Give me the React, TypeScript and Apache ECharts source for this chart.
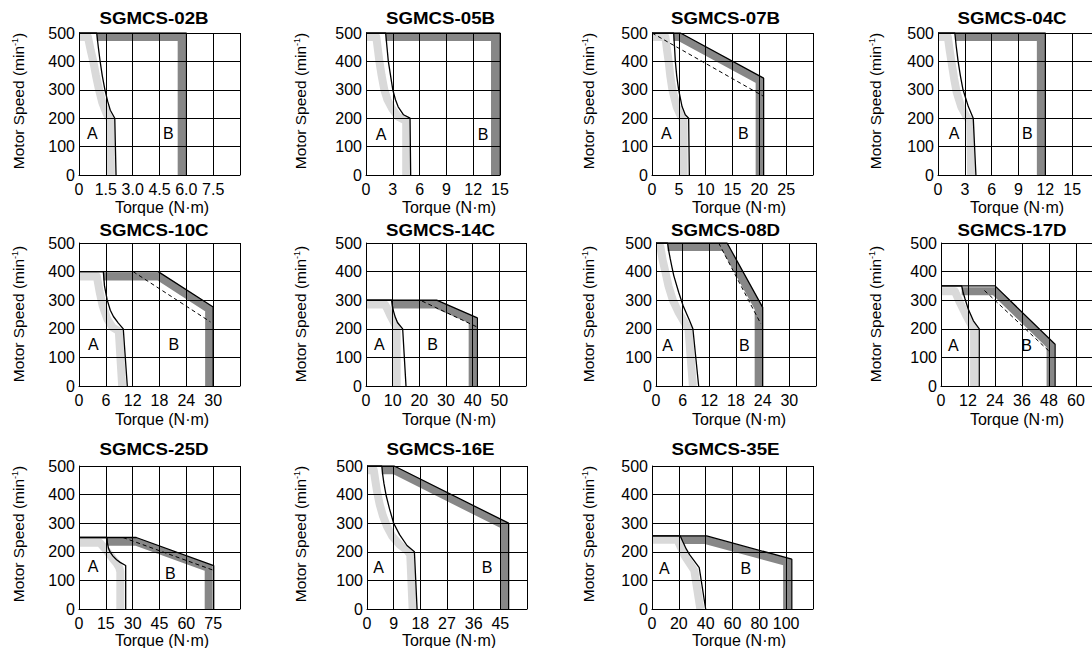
import React, { useEffect, useRef } from 'react';
import * as echarts from 'echarts';

const FONT = '"Liberation Sans", Arial, Helvetica, sans-serif';
const TXT = '#000';
const LIGHT = '#d9d9d9';
const DARK = '#878787';

// ---------- panel titles and axes ----------
const titles = ['SGMCS-02B', 'SGMCS-05B', 'SGMCS-07B', 'SGMCS-04C', 'SGMCS-10C', 'SGMCS-14C', 'SGMCS-08D', 'SGMCS-17D', 'SGMCS-25D', 'SGMCS-16E', 'SGMCS-35E'];
const xMaxes = [9, 15, 30, 18, 36, 60, 36, 72, 90, 54, 120];
const xSteps = [1.5, 3, 5, 3, 6, 10, 6, 12, 15, 9, 20];
const xShowMax = [false, true, false, false, false, false, false, false, false, false, false];
const xDecimals = [1, 0, 0, 0, 0, 0, 0, 0, 0, 0, 0];
const yMax = 500;
const yStep = 100;
const xName = 'Torque (N·m)';

// ---------- data: [torque, speed] ----------
// SGMCS-02B
const aLine02B = [[0, 500], [0.99, 500], [1.08, 450], [1.17, 405], [1.3, 350], [1.45, 300], [1.6, 260], [1.75, 228], [2.0, 200], [2.07, 0]];
const aBand02B = [[0, 486], [0.5, 486], [0.65, 440], [0.8, 400], [0.95, 350], [1.12, 300], [1.3, 255], [1.55, 215], [1.78, 190], [1.78, 0]];
const bLine02B = [[0, 500], [6, 500], [6, 0]];
const bBand02B = [[0.99, 486], [5.74, 486], [5.74, 0]];
// SGMCS-05B
const aLine05B = [[0, 500], [2.2, 500], [2.35, 450], [2.5, 400], [2.75, 350], [3.0, 300], [3.3, 265], [3.6, 240], [4.2, 212], [4.93, 200], [5.0, 0]];
const aBand05B = [[0, 486], [1.15, 486], [1.3, 450], [1.5, 400], [1.75, 350], [2.05, 300], [2.4, 265], [2.9, 235], [3.6, 205], [4.5, 190], [4.5, 0]];
const bLine05B = [[0, 500], [15, 500], [15, 0]];
const bBand05B = [[2.2, 486], [14.44, 486], [14.44, 0]];
// SGMCS-07B
const aLine07B = [[0, 500], [4.04, 500], [4.2, 450], [4.35, 400], [4.6, 350], [4.97, 300], [5.6, 241], [6.2, 212], [6.83, 200], [6.96, 0]];
const aBand07B = [[0, 486], [2.5, 486], [2.8, 440], [3.1, 400], [3.4, 350], [3.8, 300], [4.6, 240], [5.3, 210], [5.9, 190], [5.9, 0]];
const bLine07B = [[0, 500], [5.3, 500], [20.8, 341], [20.8, 0]];
const bBand07B = [[4.0, 486], [5.1, 486], [20.06, 333], [20.06, 0]];
const dash07B = [[0, 500], [20.8, 277]];
// SGMCS-04C
const aLine04C = [[0, 500], [1.88, 500], [2.05, 450], [2.25, 400], [2.5, 350], [2.8, 300], [3.4, 240], [3.94, 200], [4.24, 0]];
const aBand04C = [[0, 486], [1.1, 486], [1.3, 440], [1.5, 400], [1.8, 340], [2.1, 290], [2.6, 240], [3.2, 205], [3.6, 190], [3.7, 0]];
const bLine04C = [[0, 500], [12, 500], [12, 0]];
const bBand04C = [[1.9, 486], [11.5, 486], [11.5, 0]];
// SGMCS-10C
const aLine10C = [[0, 400], [5.44, 400], [5.7, 350], [6.3, 301], [7.0, 265], [7.7, 243], [8.8, 220], [9.9, 200], [10.8, 0]];
const aBand10C = [[0, 383], [4.0, 383], [4.6, 330], [5.3, 280], [6.3, 235], [7.5, 205], [8.9, 192], [9.65, 0]];
const bLine10C = [[0, 400], [17.7, 400], [30, 276], [30, 0]];
const bBand10C = [[5.44, 383], [17.8, 383], [29.1, 269], [29.1, 0]];
const dash10C = [[12.1, 400], [29.4, 224]];
// SGMCS-14C
const aLine14C = [[0, 300], [9.6, 300], [9.9, 280], [10.3, 262], [11.0, 240], [11.8, 222], [13.75, 200], [15.0, 0]];
const aBand14C = [[0, 285], [7.1, 285], [8.0, 270], [9.2, 245], [10.5, 222], [11.5, 205], [11.5, 0]];
const bLine14C = [[0, 300], [26.5, 300], [41.75, 238], [41.75, 0]];
const bBand14C = [[9.6, 285], [26.5, 285], [40.0, 230], [40.0, 0]];
const dash14C = [[21, 297], [41.5, 207]];
// SGMCS-08D
const aLine08D = [[0, 500], [2.6, 500], [2.9, 470], [3.2, 445], [3.6, 415], [4.0, 386], [5.1, 328], [6.1, 281], [7.4, 234], [8.3, 200], [9.6, 0]];
const aBand08D = [[0, 486], [1.0, 486], [1.5, 440], [2.1, 400], [2.8, 350], [3.8, 300], [5.0, 260], [6.3, 225], [7.3, 200], [8.3, 0]];
const bLine08D = [[0, 500], [16, 500], [24, 275], [24, 0]];
const bBand08D = [[2.6, 486], [15.5, 486], [23.1, 272], [23.1, 0]];
const dash08D = [[14.1, 500], [23.6, 217]];
// SGMCS-17D
const aLine17D = [[0, 350], [9.2, 350], [9.9, 325], [10.7, 304], [12.1, 269], [14.4, 228], [17.0, 200], [17.0, 0]];
const aBand17D = [[0, 331], [6.2, 331], [8.5, 290], [11, 250], [13.6, 212], [14.7, 200], [14.7, 0]];
const bLine17D = [[0, 350], [24, 350], [50.7, 146], [50.7, 0]];
const bBand17D = [[9.2, 331], [23.9, 331], [48.7, 141], [48.7, 0]];
const dash17D = [[19.3, 334], [48.4, 119]];
// SGMCS-25D
const aLine25D = [[0, 250], [15.65, 250], [15.9, 230], [16.5, 212], [17.5, 198], [19, 185], [21, 172], [23, 163], [26.1, 152], [26.1, 0]];
const aBand25D = [[0, 232], [11.6, 232], [14.0, 215], [16.6, 195], [19, 175], [21, 160], [22.5, 145], [23.1, 130], [23.1, 0]];
const bLine25D = [[0, 250], [32, 250], [75.3, 152], [75.3, 0]];
const bBand25D = [[15.6, 235], [32, 235], [72.5, 143], [72.5, 0]];
const dash25D = [[24.6, 250], [74.9, 136]];
// SGMCS-16E
const aLine16E = [[0, 500], [5.0, 500], [5.3, 470], [5.7, 440], [6.5, 395], [7.6, 350], [9.0, 300], [11, 260], [13.5, 222], [16.0, 200], [16.9, 0]];
const aBand16E = [[0, 485], [2.3, 485], [2.8, 450], [3.4, 410], [4.3, 365], [5.4, 325], [6.7, 290], [8.5, 255], [11, 225], [13.5, 205], [14.6, 190], [15.4, 0]];
const bLine16E = [[0, 500], [9.2, 500], [47.8, 300], [47.8, 0]];
const bBand16E = [[5, 485], [9.2, 485], [46.35, 292], [46.35, 0]];
// SGMCS-35E
const aLine35E = [[0, 256], [21, 256], [23, 235], [25.5, 210], [28, 190], [35.2, 145], [40, 0]];
const aBand35E = [[0, 242], [19, 242], [21.5, 215], [24.5, 185], [31.5, 135], [36, 0]];
const bLine35E = [[0, 256], [40.7, 256], [104.2, 174], [104.2, 0]];
const bBand35E = [[21, 241], [40, 241], [100.7, 164], [100.7, 0]];

const aLines = [aLine02B, aLine05B, aLine07B, aLine04C, aLine10C, aLine14C, aLine08D, aLine17D, aLine25D, aLine16E, aLine35E];
const aBands = [aBand02B, aBand05B, aBand07B, aBand04C, aBand10C, aBand14C, aBand08D, aBand17D, aBand25D, aBand16E, aBand35E];
const bLines = [bLine02B, bLine05B, bLine07B, bLine04C, bLine10C, bLine14C, bLine08D, bLine17D, bLine25D, bLine16E, bLine35E];
const bBands = [bBand02B, bBand05B, bBand07B, bBand04C, bBand10C, bBand14C, bBand08D, bBand17D, bBand25D, bBand16E, bBand35E];
const dashes: (number[][] | null)[] = [null, null, dash07B, null, dash10C, dash14C, dash08D, dash17D, dash25D, null, null];

// region label anchors (data coords)
const labelA = [[0.75, 147], [1.68, 141], [2.67, 147], [1.8, 147], [3.2, 144], [5, 145], [2.6, 140], [5.5, 140], [7.8, 148], [3.9, 146], [9.1, 143]];
const labelB = [[5, 147], [13.1, 141], [17, 147], [10, 147], [21.2, 144], [25, 145], [19.9, 140], [38, 140], [51, 125], [40.5, 146], [70, 143]];

// ---------- layout (pixels) ----------
const gridBoxes = [
  [79, 33, 161, 142], [366, 33, 134, 142], [652, 33, 161, 142], [938, 33, 161, 142],
  [79, 243, 161, 143], [366, 243, 160, 143], [656, 243, 160, 143], [941, 243, 162, 143],
  [79, 466, 161, 143], [367, 466, 160, 143], [652, 466, 161, 143],
];
const colTitleX = [154, 440.5, 725.5, 1012];
const colYNameX = [18, 300, 588, 875];
const colXNameX = [162, 449, 739, 1017];
const rowTitleY = [18, 230, 449];
const rowYNameY = [101, 314, 534];
const rowXNameY = [207, 419, 640];

export default function App() {
  const ref = useRef<HTMLDivElement>(null);
  useEffect(() => {
    if (!ref.current) return;
    const chart = echarts.init(ref.current, undefined, { renderer: 'svg' });
    const grid: any[] = [];
    const xAxis: any[] = [];
    const yAxis: any[] = [];
    const series: any[] = [];
    const graphic: any[] = [];
    titles.forEach((t, i) => {
      const [l, tp, w, h] = gridBoxes[i];
      const col = i % 4;
      const row = Math.floor(i / 4);
      grid.push({ left: l, top: tp, width: w, height: h, containLabel: false, outerBoundsMode: 'none' });
      const dec = xDecimals[i];
      xAxis.push({
        type: 'value', gridIndex: i, min: 0, max: xMaxes[i], interval: xSteps[i], z: 3,
        axisLine: { show: true, onZero: false, lineStyle: { color: '#000', width: 1 } },
        axisTick: { show: false },
        splitLine: { show: true, lineStyle: { color: '#000', width: 1 } },
        axisLabel: {
          color: TXT, fontSize: 16, fontFamily: FONT, margin: 6,
          showMaxLabel: xShowMax[i], showMinLabel: true,
          formatter: (v: number) => (v === 0 ? '0' : v.toFixed(dec)),
        },
      });
      yAxis.push({
        type: 'value', gridIndex: i, min: 0, max: yMax, interval: yStep, z: 3,
        axisLine: { show: true, lineStyle: { color: '#000', width: 1 } },
        axisTick: { show: false },
        splitLine: { show: true, lineStyle: { color: '#000', width: 1 } },
        axisLabel: { color: TXT, fontSize: 16, fontFamily: FONT, margin: 4 },
      });
      const base = { type: 'line', xAxisIndex: i, yAxisIndex: i, symbol: 'none', silent: true, animation: false };
      series.push({ ...base, name: t + ' B band', data: bBands[i], z: 1, lineStyle: { color: DARK, width: 8, cap: 'butt', join: 'miter' } });
      series.push({ ...base, name: t + ' A band', data: aBands[i], z: 1, lineStyle: { color: LIGHT, width: 8, cap: 'butt', join: 'round' } });
      const d = dashes[i];
      if (d) series.push({ ...base, name: t + ' dashed', data: d, z: 4, lineStyle: { color: '#000', width: 1, type: [4, 3] } });
      series.push({ ...base, name: t + ' A', data: aLines[i], z: 4, lineStyle: { color: '#000', width: 1.3 } });
      series.push({ ...base, name: t + ' B', data: bLines[i], z: 4, lineStyle: { color: '#000', width: 1.3 } });
      series.push({
        type: 'scatter', xAxisIndex: i, yAxisIndex: i, silent: true, z: 5, symbolSize: 0,
        itemStyle: { color: '#000', opacity: 1 },
        data: [{ name: 'A', value: labelA[i] }, { name: 'B', value: labelB[i] }],
        label: { show: true, position: 'inside', formatter: '{b}', color: '#000', opacity: 1, fontSize: 16, fontFamily: FONT, textBorderWidth: 0 },
      });
      graphic.push({
        type: 'text', x: colTitleX[col], y: rowTitleY[row], scaleX: 1.17, z: 10,
        style: { text: t, fontSize: 16, fontWeight: 'bold', fontFamily: FONT, fill: TXT, align: 'center', verticalAlign: 'middle' },
      });
      graphic.push({
        type: 'text', x: colYNameX[col], y: rowYNameY[row], rotation: Math.PI / 2, z: 10,
        style: {
          text: '{a|Motor Speed (min}{s|-1}{a|)}',
          rich: {
            a: { fontSize: 15.5, fontFamily: FONT, fill: TXT, color: TXT },
            s: { fontSize: 9, fontFamily: FONT, fill: TXT, color: TXT, verticalAlign: 'top' },
          },
          fontSize: 15.5, fontFamily: FONT, fill: TXT, align: 'center', verticalAlign: 'middle',
        },
      });
      graphic.push({
        type: 'text', x: colXNameX[col], y: rowXNameY[row], z: 10,
        style: { text: xName, fontSize: 16, fontFamily: FONT, fill: TXT, align: 'center', verticalAlign: 'middle' },
      });
    });
    chart.setOption({
      animation: false,
      backgroundColor: '#fff',
      textStyle: { fontFamily: FONT },
      grid, xAxis, yAxis, series, graphic,
    });
    return () => chart.dispose();
  }, []);
  return <div ref={ref} style={{ position: 'fixed', left: 0, top: 0, width: 1092, height: 648 }} />;
}
